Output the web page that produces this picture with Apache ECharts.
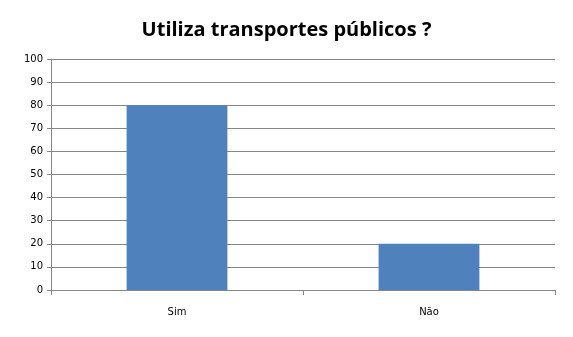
<!DOCTYPE html>
<html><head><meta charset="utf-8">
<script src="https://cdn.jsdelivr.net/npm/echarts@6/dist/echarts.min.js"></script>
<style>html,body{margin:0;padding:0;background:#fff}#c{width:573px;height:337px}</style>
</head><body><div id="c"></div>
<script>
const categories = ['Sim', 'Não'];
const values = [80, 20];
const titleText = 'Utiliza transportes públicos ?';

const chart = echarts.init(document.getElementById('c'), null, {renderer: 'canvas'});
chart.setOption({
  animation: false,
  backgroundColor: '#fff',
  title: {
    text: titleText, left: 'center', top: 15,
    textStyle: {fontFamily: 'Open Sans', fontWeight: 'bold', fontSize: 20, color: '#000'}
  },
  grid: {left: 51, right: 18, top: 59, bottom: 47},
  xAxis: {
    type: 'category', data: categories,
    axisLine: {lineStyle: {color: '#868686', width: 1}},
    axisTick: {show: true, length: 5, lineStyle: {color: '#868686'}},
    axisLabel: {color: '#000', fontFamily: 'DejaVu Sans', fontSize: 10, margin: 17}
  },
  yAxis: {
    type: 'value', min: 0, max: 100, interval: 10,
    axisLine: {show: true, lineStyle: {color: '#868686', width: 1}},
    axisTick: {show: true, length: 4, lineStyle: {color: '#868686'}},
    splitLine: {lineStyle: {color: '#868686', width: 1}},
    axisLabel: {color: '#000', fontFamily: 'DejaVu Sans', fontSize: 10, margin: 8}
  },
  series: [{
    type: 'bar', data: values, barWidth: '40%',
    itemStyle: {color: '#4f81bd'}
  }]
});
</script></body></html>
